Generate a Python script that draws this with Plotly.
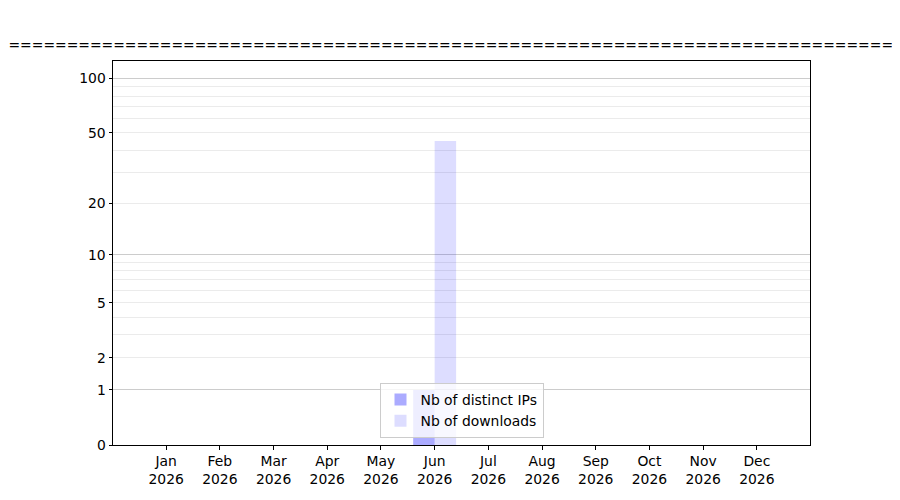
import numpy as np
import plotly.graph_objects as go

# Monthly stats for 2026
months = ["Jan", "Feb", "Mar", "Apr", "May", "Jun",
          "Jul", "Aug", "Sep", "Oct", "Nov", "Dec"]
year = "2026"
distinct_ips = [0, 0, 0, 0, 0, 1, 0, 0, 0, 0, 0, 0]
downloads = [0, 0, 0, 0, 0, 45, 0, 0, 0, 0, 0, 0]

# y ticks on a log(1 + n) scale
major_ticks = [0, 1, 2, 5, 10, 20, 50, 100]
strong_grid = [1, 10, 100]
light_grid = [2, 3, 4, 5, 6, 7, 8, 9, 20, 30, 40, 50, 60, 70, 80, 90]


def tr(v):
    return np.log10(1 + np.asarray(v, dtype=float))


x = list(range(len(months)))
font = dict(family="DejaVu Sans", size=13.9, color="black")

fig = go.Figure()
fig.add_trace(go.Bar(
    x=x, y=tr(distinct_ips), width=0.4, offset=-0.4,
    marker=dict(color="rgba(0,0,255,0.33)", line=dict(width=0)),
    name="Nb of distinct IPs"
))
fig.add_trace(go.Bar(
    x=x, y=tr(downloads), width=0.4, offset=0,
    marker=dict(color="rgba(0,0,255,0.135)", line=dict(width=0)),
    name="Nb of downloads"
))
# dummy trace on the overlay axis so its grid gets drawn
fig.add_trace(go.Scatter(x=[None], y=[None], yaxis="y2", showlegend=False))

yrange = [0, 2.1006]
fig.update_layout(
    width=892, height=492,
    margin=dict(l=105, r=90, t=53, b=55),
    paper_bgcolor="white", plot_bgcolor="white",
    font=font,
    barmode="overlay",
    title=dict(text="=" * 130, x=0.9922, xanchor="right", xref="container",
               y=0.925, yanchor="middle", yref="container",
               font=dict(family="DejaVu Sans", size=13.9, color="black")),
    xaxis=dict(
        range=[-0.99, 11.99],
        tickmode="array", tickvals=x,
        ticktext=[f"{m}<br>{year}" for m in months],
        ticks="outside", ticklen=3.5, tickcolor="black",
        showgrid=False, zeroline=False,
        showline=True, linecolor="black", linewidth=1, mirror=True,
    ),
    yaxis=dict(
        range=yrange,
        tickmode="array", tickvals=tr(major_ticks),
        ticktext=[str(t) for t in major_ticks],
        ticks="outside", ticklen=3.5, tickcolor="black",
        showgrid=False, zeroline=False,
        showline=True, linecolor="black", linewidth=1, mirror=True,
        minor=dict(tickmode="array", tickvals=tr(light_grid), ticks="",
                   showgrid=True, gridcolor="#ebebeb", gridwidth=0.8),
    ),
    yaxis2=dict(
        range=yrange, overlaying="y", side="left",
        tickmode="array", tickvals=tr(strong_grid),
        showticklabels=False, ticks="",
        showgrid=True, gridcolor="#cccccc", gridwidth=1, zeroline=False,
    ),
    legend=dict(
        x=0.5, xanchor="center", y=0.018, yanchor="bottom",
        bgcolor="rgba(255,255,255,0.8)", bordercolor="#cccccc", borderwidth=1,
        font=font, traceorder="normal", tracegroupgap=0,
    ),
    showlegend=True,
)

fig.write_html("out.html")
